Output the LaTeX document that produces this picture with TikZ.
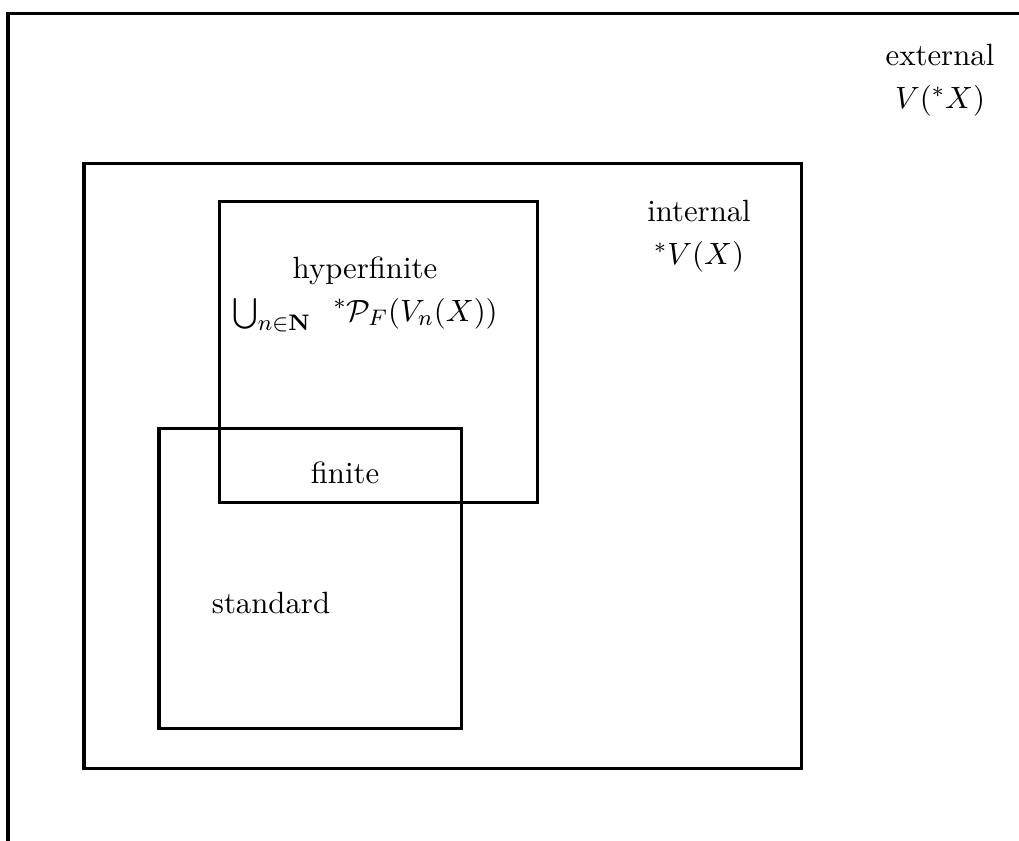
\documentclass[tikz,border=0pt]{standalone}
\usepackage{amsmath,amssymb}
\begin{document}
\begin{tikzpicture}[x=0.356pt,y=-0.356pt,
  frame/.style={draw=black,line width=1.07pt},
  lbl/.style={align=center,inner sep=0pt,font=\fontsize{10.95}{15.3}\selectfont}]
\useasboundingbox (0,0) rectangle (1019,840);
\begin{scope}
\clip (0,0) rectangle (1019,840);
\draw[frame] (8,13) rectangle (1040,860);
\end{scope}
\node[frame,minimum width=717*0.356pt,minimum height=605*0.356pt,inner sep=0pt] (internal) at (442.5,465.5) {};
\node[frame,minimum width=318*0.356pt,minimum height=301*0.356pt,inner sep=0pt] (hyper) at (378,351.5) {};
\node[frame,minimum width=302*0.356pt,minimum height=300*0.356pt,inner sep=0pt] (standard) at (310,578) {};
\node[lbl] (ext) at (940,80) {external\\$V({}^*X)$};
\node[lbl] (int) at (699,236) {internal\\${}^*V(X)$};
\node[lbl] (hyp) at (365,294) {hyperfinite\\$\bigcup_{n\in\mathbf{N}}\ \hspace{2.5pt}{}^*\mathcal{P}_F(V_n(X))$};
\node[lbl] (fin) at (345,473) {finite};
\node[lbl] (std) at (271,603) {standard};
\end{tikzpicture}
\end{document}
